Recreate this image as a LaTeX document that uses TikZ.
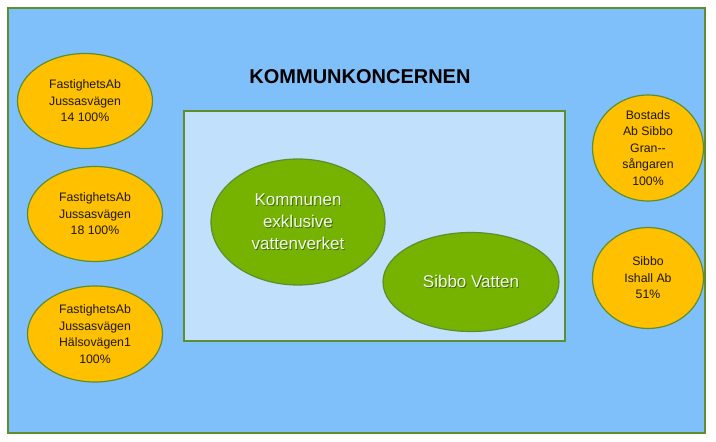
\documentclass[tikz,border=0pt]{standalone}
\usepackage{fontspec}
\setmainfont{Liberation Sans}
\usetikzlibrary{shapes.geometric}
\definecolor{outerblue}{HTML}{80C0FA}
\definecolor{innerblue}{HTML}{C0E0FC}
\definecolor{orgfill}{HTML}{FFC000}
\definecolor{edgegreen}{HTML}{5E8E2E}
\definecolor{grnfill}{HTML}{76B300}
\definecolor{grntext}{HTML}{F2FAE4}
\definecolor{grnshadow}{HTML}{3F6A10}
\definecolor{darktext}{HTML}{1E1A08}
\newcommand{\shadtxt}[1]{\makebox[0pt][l]{\hspace{0.9pt}\raisebox{-0.9pt}{\textcolor{grnshadow}{#1}}}#1}
\tikzset{
  frame/.style={draw=edgegreen, line width=1.2pt},
  subco/.style={ellipse, draw=edgegreen, line width=1.2pt, fill=orgfill, inner sep=0pt,
    align=center, text=darktext, font=\fontsize{12.3}{16.5}\selectfont},
  core/.style={ellipse, draw=edgegreen, line width=1.2pt, fill=grnfill, inner sep=0pt,
    align=center, text=grntext, font=\fontsize{17}{22}\selectfont},
}
\begin{document}
\begin{tikzpicture}[x=1pt,y=-1pt]
\useasboundingbox (0,0) rectangle (716,442);
\fill[white] (0,0) rectangle (716,442);
% outer group frame
\draw[frame, fill=outerblue] (8,8) rectangle (705,433);
\node[font=\bfseries\fontsize{20}{24}\selectfont, text=black] (title) at (360,77) {KOMMUNKONCERNEN};
% inner frame
\draw[frame, fill=innerblue] (184,111) rectangle (565,341);
% core ellipses
\node[core, minimum width=174pt, minimum height=126pt] (kommunen) at (298,222) {\shadtxt{Kommunen}\\\shadtxt{exklusive}\\\shadtxt{vattenverket}};
\node[core, minimum width=176pt, minimum height=99pt] (vatten) at (471,282) {\shadtxt{Sibbo Vatten}};
% subsidiaries left
\node[subco, minimum width=135pt, minimum height=95pt] (j14) at (85,101) {FastighetsAb\\Jussasvägen\\14 100\%};
\node[subco, minimum width=135pt, minimum height=95pt] (j18) at (95,214) {FastighetsAb\\Jussasvägen\\18 100\%};
\node[subco, minimum width=135pt, minimum height=96pt] (hals) at (95,334) {FastighetsAb\\Jussasvägen\\Hälsovägen1\\100\%};
% subsidiaries right
\node[subco, minimum width=111pt, minimum height=95pt] (bostads) at (648,148) {Bostads\\Ab Sibbo\\Gran-{}-\\sångaren\\100\%};
\node[subco, minimum width=111pt, minimum height=101pt] (ishall) at (648,278) {Sibbo\\Ishall Ab\\51\%};
\end{tikzpicture}
\end{document}
